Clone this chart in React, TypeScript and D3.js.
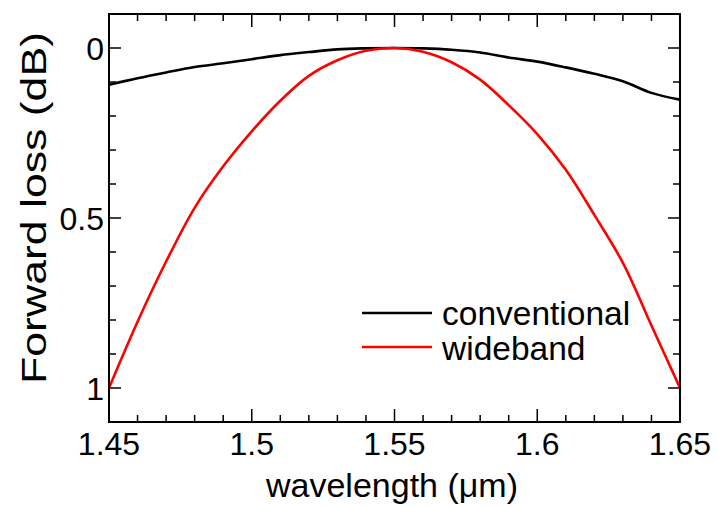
import React from "react";
import * as d3 from "d3";

const wavelengths = [1.45, 1.46, 1.47, 1.48, 1.49, 1.5, 1.51, 1.52, 1.53, 1.54, 1.55, 1.56, 1.57, 1.58, 1.59, 1.6, 1.61, 1.62, 1.63, 1.64, 1.65];
const conventional = [0.108, 0.089, 0.072, 0.056, 0.045, 0.033, 0.021, 0.012, 0.004, 0.001, 0, 0.001, 0.005, 0.013, 0.028, 0.04, 0.057, 0.076, 0.098, 0.132, 0.152];
const wideband = [1.0, 0.805, 0.628, 0.47, 0.348, 0.245, 0.155, 0.082, 0.036, 0.008, 0, 0.011, 0.042, 0.093, 0.168, 0.253, 0.358, 0.491, 0.632, 0.816, 1.0];
const xTickLabels = ["1.45", "1.5", "1.55", "1.6", "1.65"];
const yTickLabels = ["0", "0.5", "1"];
const seriesNames = ["conventional", "wideband"];
const seriesColors = ["#000000", "#ff0000"];

const W = 718;
const H = 506;
const L = 109, R = 680, T = 14, B = 422;
const FONT = "Arial, 'Liberation Sans', sans-serif";

export default function App() {
  const x = d3.scaleLinear().domain([1.45, 1.65]).range([L, R]);
  const y = d3.scaleLinear().domain([-0.1, 1.1]).range([T, B]);

  const xMinor = d3.range(0, 21).map((i) => 1.45 + i * 0.01);
  const yMinor = d3.range(0, 13).map((i) => -0.1 + i * 0.1);
  const isMajorX = (v: number) => Math.abs(Math.round(v * 20) - v * 20) < 1e-6;
  const isMajorY = (v: number) => Math.abs(Math.round(v * 2) - v * 2) < 1e-6;

  const line = d3
    .line<number>()
    .x((_, i) => x(wavelengths[i]))
    .y((d) => y(d))
    .curve(d3.curveCatmullRom.alpha(0.5));

  const series = [conventional, wideband];

  return (
    <svg
      width={W}
      height={H}
      style={{ position: "absolute", left: 0, top: 0, background: "#fff" }}
      fontFamily={FONT}
    >
      <defs>
        <clipPath id="plot">
          <rect x={L} y={T} width={R - L} height={B - T} />
        </clipPath>
      </defs>
      {/* ticks */}
      {xMinor.map((v, i) => {
        const len = isMajorX(v) ? 13 : 7;
        const px = x(v);
        return (
          <g key={"xt" + i} stroke="#000" strokeWidth={1.5}>
            <line x1={px} x2={px} y1={B} y2={B - len} />
            <line x1={px} x2={px} y1={T} y2={T + len} />
          </g>
        );
      })}
      {yMinor.map((v, i) => {
        const len = isMajorY(v) ? 12 : 7;
        const py = y(v);
        return (
          <g key={"yt" + i} stroke="#000" strokeWidth={1.5}>
            <line x1={L} x2={L + len} y1={py} y2={py} />
            <line x1={R} x2={R - len} y1={py} y2={py} />
          </g>
        );
      })}
      {/* curves */}
      <g clipPath="url(#plot)">
        {series.map((s, i) => (
          <path
            key={"s" + i}
            d={line(s) || ""}
            fill="none"
            stroke={seriesColors[i]}
            strokeWidth={2.6}
            strokeLinejoin="round"
          />
        ))}
      </g>
      {/* frame */}
      <rect x={L} y={T} width={R - L} height={B - T} fill="none" stroke="#000" strokeWidth={2} />
      {/* x tick labels */}
      {xTickLabels.map((t) => (
        <text key={"xl" + t} x={x(+t)} y={455} fontSize={32} textAnchor="middle" fill="#000">
          {t}
        </text>
      ))}
      {/* y tick labels */}
      {yTickLabels.map((t) => (
        <text key={"yl" + t} x={104} y={y(+t)} dy="0.36em" fontSize={32} textAnchor="end" fill="#000">
          {t}
        </text>
      ))}
      {/* axis labels */}
      <text x={392} y={497} fontSize={34} textAnchor="middle" fill="#000">
        wavelength (μm)
      </text>
      <text
        transform={`translate(46, 208) rotate(-90)`}
        fontSize={35}
        textAnchor="middle"
        fill="#000"
        textLength={352}
        lengthAdjust="spacingAndGlyphs"
      >
        Forward loss (dB)
      </text>
      {/* legend */}
      {seriesNames.map((n, i) => (
        <g key={"lg" + n}>
          <line x1={362} x2={432} y1={313 + i * 34} y2={313 + i * 34} stroke={seriesColors[i]} strokeWidth={2.6} />
          <text x={442} y={325 + i * 35} fontSize={33.5} fill="#000">
            {n}
          </text>
        </g>
      ))}
    </svg>
  );
}
